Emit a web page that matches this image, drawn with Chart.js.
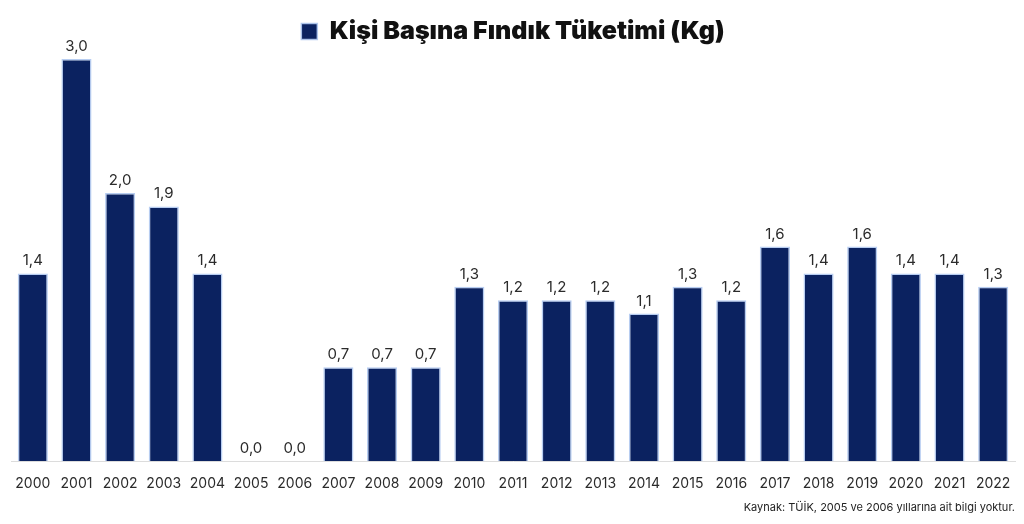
<!DOCTYPE html>
<html>
<head>
<meta charset="utf-8">
<script src="https://cdn.jsdelivr.net/npm/chart.js@4"></script>
<style>
  html, body { margin: 0; padding: 0; background: #fff; }
  #wrap { width: 1024px; height: 524px; }
</style>
</head>
<body>
<div id="wrap"><canvas id="chart" width="1024" height="524"></canvas></div>
<script>
// yillar ve degerler
const years = ['2000', '2001', '2002', '2003', '2004', '2005', '2006', '2007', '2008', '2009', '2010', '2011',
  '2012', '2013', '2014', '2015', '2016', '2017', '2018', '2019', '2020', '2021', '2022'];
const consumption = [1.4, 3.0, 2.0, 1.9, 1.4, 0.0, 0.0, 0.7, 0.7, 0.7, 1.3, 1.2,
  1.2, 1.2, 1.1, 1.3, 1.2, 1.6, 1.4, 1.6, 1.4, 1.4, 1.3];
const seriesName = 'Kişi Başına Fındık Tüketimi (Kg)';
const sourceNote = 'Kaynak: TÜİK, 2005 ve 2006 yıllarına ait bilgi yoktur.';

const navy = '#0b2260';

// barlarin ustune degerleri yazar (virgullu)
const valueLabels = {
  id: 'valueLabels',
  afterDatasetsDraw(chart) {
    const c = chart.ctx;
    const meta = chart.getDatasetMeta(0);
    c.save();
    c.font = '15px Inter';
    c.fillStyle = '#2b2b2b';
    c.textAlign = 'center';
    c.textBaseline = 'bottom';
    meta.data.forEach((bar, i) => {
      const txt = consumption[i].toFixed(1).replace('.', ',');
      c.fillText(txt, bar.x, bar.y - 5);
    });
    c.restore();
  }
};

// etwas mehr platz unter der legende
const legendGap = {
  id: 'legendGap',
  beforeInit(chart) {
    const origFit = chart.legend.fit;
    chart.legend.fit = function () {
      origFit.bind(chart.legend)();
      this.height += 5;
    };
  }
};

new Chart(document.getElementById('chart'), {
  type: 'bar',
  data: {
    labels: years,
    datasets: [{
      label: seriesName,
      data: consumption,
      backgroundColor: navy,
      borderColor: 'rgba(175,200,240,0.9)',
      borderWidth: (ctx) => (consumption[ctx.dataIndex] === 0 ? 0 : 1.5),
      borderSkipped: 'bottom',
      categoryPercentage: 1,
      barPercentage: 0.69
    }]
  },
  options: {
    responsive: false,
    animation: false,
    layout: { padding: { left: 11, right: 9, top: 0, bottom: 0 } },
    plugins: {
      legend: {
        display: true,
        position: 'top',
        onClick: null,
        labels: {
          boxWidth: 16,
          boxHeight: 16,
          padding: 19,
          color: '#111',
          font: { family: 'Inter', size: 25, weight: '900' }
        }
      },
      title: { display: false },
      subtitle: {
        display: true,
        text: sourceNote,
        position: 'bottom',
        align: 'end',
        color: '#222',
        font: { family: 'Inter', size: 11 },
        padding: { top: 3, bottom: 10 }
      },
      tooltip: { enabled: false }
    },
    scales: {
      x: {
        grid: { display: false },
        border: { display: true, color: '#dcdcdc', width: 1 },
        ticks: {
          color: '#2b2b2b',
          font: { family: 'Inter', size: 14 },
          padding: 6,
          maxRotation: 0,
          autoSkip: false
        }
      },
      y: {
        display: false,
        min: 0,
        max: 3.0
      }
    }
  },
  plugins: [valueLabels, legendGap]
});
</script>
</body>
</html>
